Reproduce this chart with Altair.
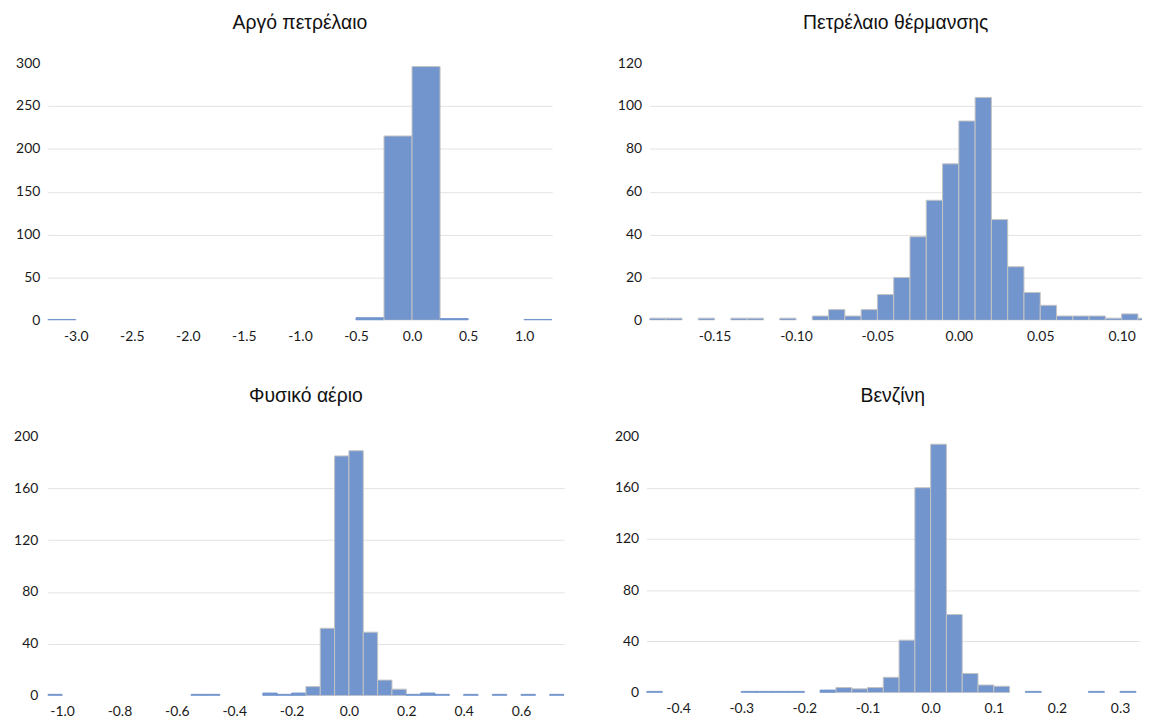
import altair as alt
import pandas as pd

FILL = "#7295cd"
STROKE = "#c4c4c4"
GRID = "#e3e3e3"
TICK_FONT = "Lato"
TITLE_FONT = "Liberation Sans"

# ---- Crude oil ----
crude_title = "Αργό πετρέλαιο"
crude_bin_width = 0.25
crude_bin_start = [-3.25, -0.5, -0.25, 0.0, 0.25, 1.0]
crude_counts = [1, 3, 215, 296, 2, 1]
crude_x_domain = [-3.25, 1.25]
crude_x_ticks = [-3.0, -2.5, -2.0, -1.5, -1.0, -0.5, 0.0, 0.5, 1.0]
crude_y_ticks = [0, 50, 100, 150, 200, 250, 300]

# ---- Heating oil ----
heating_title = "Πετρέλαιο θέρμανσης"
heating_bin_width = 0.01
heating_bin_start = [-0.19, -0.18, -0.16, -0.14, -0.13, -0.11, -0.09, -0.08, -0.07,
                     -0.06, -0.05, -0.04, -0.03, -0.02, -0.01, 0.0, 0.01, 0.02, 0.03,
                     0.04, 0.05, 0.06, 0.07, 0.08, 0.09, 0.10, 0.11]
heating_counts = [1, 1, 1, 1, 1, 1, 2, 5, 2, 5, 12, 20, 39, 56, 73, 93, 104, 47, 25,
                  13, 7, 2, 2, 2, 1, 3, 1]
heating_x_domain = [-0.19, 0.1125]
heating_x_ticks = [-0.15, -0.10, -0.05, 0.0, 0.05, 0.10]
heating_y_ticks = [0, 20, 40, 60, 80, 100, 120]

# ---- Natural gas ----
gas_title = "Φυσικό αέριο"
gas_bin_width = 0.05
gas_bin_start = [-1.05, -0.55, -0.5, -0.3, -0.25, -0.2, -0.15, -0.1, -0.05, 0.0, 0.05,
                 0.1, 0.15, 0.2, 0.25, 0.3, 0.4, 0.5, 0.6, 0.7]
gas_counts = [1, 1, 1, 2, 1, 2, 7, 52, 185, 189, 49, 12, 5, 1, 2, 1, 1, 1, 1, 1]
gas_x_domain = [-1.05, 0.75]
gas_x_ticks = [-1.0, -0.8, -0.6, -0.4, -0.2, 0.0, 0.2, 0.4, 0.6]
gas_y_ticks = [0, 40, 80, 120, 160, 200]

# ---- Gasoline ----
gasoline_title = "Βενζίνη"
gasoline_bin_width = 0.025
gasoline_bin_start = [-0.45, -0.3, -0.275, -0.25, -0.225, -0.175, -0.15, -0.125, -0.1,
                      -0.075, -0.05, -0.025, 0.0, 0.025, 0.05, 0.075, 0.1, 0.15, 0.25, 0.3]
gasoline_counts = [1, 1, 1, 1, 1, 2, 4, 3, 4, 12, 41, 160, 194, 61, 15, 6, 5, 1, 1, 1]
gasoline_x_domain = [-0.45, 0.33]
gasoline_x_ticks = [-0.4, -0.3, -0.2, -0.1, 0.0, 0.1, 0.2, 0.3]
gasoline_y_ticks = [0, 40, 80, 120, 160, 200]


def panel(title, starts, counts, bw, xdom, xticks, xfmt, yticks, w, h, ext, pad, thin):
    df = pd.DataFrame({"start": starts, "count": counts})
    df["end"] = df["start"] + bw
    ymax = yticks[-1]
    return (
        alt.Chart(df)
        .mark_bar(fill=FILL, strokeWidth=1, clip=True)
        .encode(
            x=alt.X(
                "start:Q",
                scale=alt.Scale(domain=xdom, nice=False, zero=False, padding=0),
                axis=alt.Axis(
                    values=xticks,
                    labelExpr=f"replace(format(datum.value, '{xfmt}'), '\u2212', '-')",
                    grid=False, domain=False, ticks=False, labelPadding=9,
                    labelOverlap=False, labelFlush=False, title=None,
                ),
            ),
            x2="end:Q",
            y=alt.Y(
                "count:Q",
                scale=alt.Scale(domain=[0, ymax], nice=False, padding=0),
                axis=alt.Axis(
                    values=yticks, grid=True,
                    gridOpacity={"condition": {"test": f"datum.value <= 0 || datum.value >= {ymax}", "value": 0}, "value": 1},
                    domain=False, ticks=False, labelPadding=pad, title=None,
                    minExtent=ext, maxExtent=ext,
                ),
            ),
            y2=alt.datum(0),
            stroke=alt.condition(f"datum.count <= {thin}", alt.value(FILL), alt.value(STROKE)),
        )
        .properties(width=w, height=h, title=alt.TitleParams(title, offset=23))
    )


p1 = panel(crude_title, crude_bin_start, crude_counts, crude_bin_width, crude_x_domain,
           crude_x_ticks, ".1f", crude_y_ticks, 508, 259, 37, 8, 3)
p2 = panel(heating_title, heating_bin_start, heating_counts, heating_bin_width, heating_x_domain,
           heating_x_ticks, ".2f", heating_y_ticks, 496, 259, 37, 8, 0)
p3 = panel(gas_title, gas_bin_start, gas_counts, gas_bin_width, gas_x_domain,
           gas_x_ticks, ".1f", gas_y_ticks, 520, 261, 40, 10, 2)
p4 = panel(gasoline_title, gasoline_bin_start, gasoline_counts, gasoline_bin_width, gasoline_x_domain,
           gasoline_x_ticks, ".1f", gasoline_y_ticks, 496, 258, 37, 8, 2)

row1 = alt.hconcat(p1, p2, spacing=61)
row2 = alt.hconcat(p3, p4, spacing=46)

chart = (
    alt.vconcat(row1, row2, spacing=43)
    .configure(background="white", padding={"top": 2, "left": 0, "right": 0, "bottom": 0})
    .configure_view(stroke=None)
    .configure_axis(
        labelFont=TICK_FONT, labelFontSize=14, labelColor="#1a1a1a",
        gridColor=GRID, gridWidth=1,
    )
    .configure_title(font=TITLE_FONT, fontSize=19.5, fontWeight="normal", color="#111111", anchor="middle")
)

chart.save("out.html", embed_options={"renderer": "svg", "actions": False})
